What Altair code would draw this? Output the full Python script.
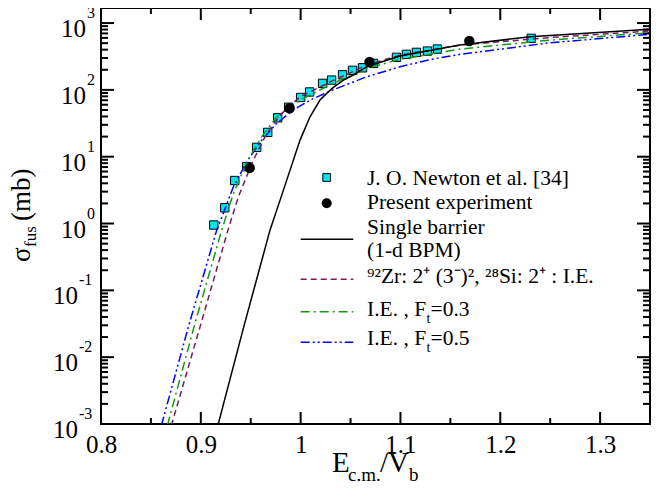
import altair as alt
import pandas as pd

# ---------------- data ----------------
newton_x = [0.913, 0.924, 0.934, 0.946, 0.956, 0.967, 0.977, 0.988, 1.000, 1.009,
            1.022, 1.031, 1.042, 1.052, 1.062, 1.073, 1.096, 1.106, 1.116, 1.127,
            1.137, 1.231]
newton_y = [0.95, 1.72, 4.4, 7.1, 13.8, 23.1, 38.2, 55, 77, 93,
            125, 140, 168, 196, 214, 249, 307, 340, 364, 381,
            408, 590]

present_x = [0.949, 0.989, 1.069, 1.169]
present_y = [6.8, 53, 261, 538]

sb_x = [0.917, 0.943, 0.9693, 0.9794, 0.9894, 0.9994, 1.0094, 1.0194, 1.0261, 1.0328,
        1.0428, 1.0528, 1.0662, 1.0996, 1.1597, 1.2299, 1.35]
sb_y = [0.00094, 0.0284, 0.796, 2.24, 6.3, 17.7, 39.6, 70.4, 88.6, 109,
        140, 167, 222, 321, 469, 624, 805]

ie_x = [0.8705, 0.8992, 0.9272, 0.9376, 0.952, 0.966, 0.9794, 0.9994, 1.0312, 1.0662,
        1.0996, 1.1597, 1.2499, 1.35]
ie_y = [0.00095, 0.0284, 0.796, 2.51, 8.5, 22.3, 42, 78.8, 135, 234,
        332, 469, 607, 760]

ft3_x = [0.8665, 0.8932, 0.9209, 0.9326, 0.947, 0.961, 0.975, 0.996, 1.0094, 1.03,
         1.0662, 1.0996, 1.1597, 1.2499, 1.35]
ft3_y = [0.00095, 0.0284, 0.796, 2.8, 8.8, 20, 38, 65, 84, 120,
         210, 287, 408, 556, 716]

ft5_x = [0.8605, 0.8875, 0.9159, 0.9225, 0.9326, 0.946, 0.961, 0.976, 0.9927, 1.0094,
         1.0325, 1.0662, 1.0996, 1.1327, 1.1597, 1.2499, 1.35]
ft5_y = [0.00095, 0.0284, 0.796, 1.42, 3.54, 8.39, 17.7, 31.5, 49.9, 70.4,
         100, 157, 222, 290, 340, 507, 678]

x_major = [0.8, 0.9, 1.0, 1.1, 1.2, 1.3]
x_minor = [0.85, 0.95, 1.05, 1.15, 1.25]
y_major = [1e-3, 1e-2, 1e-1, 1e0, 1e1, 1e2, 1e3]
y_minor = [k * d for d in [1e-3, 1e-2, 1e-1, 1e0, 1e1, 1e2] for k in range(2, 10)]
ylab_pos_v = [1e3, 1e2, 1e1, 1e0]
ylab_pos_sup = ["3", "2", "1", "0"]
ylab_neg_v = [1e-1, 1e-2, 1e-3]
ylab_neg_sup = ["-1", "-2", "-3"]

legend_labels = ["J. O. Newton et al. [34]", "Present experiment", "Single barrier",
                 " (1-d BPM)", "⁹²Zr: 2⁺ (3⁻)², ²⁸Si: 2⁺ : I.E."]

# ---------------- layout ----------------
W, H = 549, 416
FONT = "Liberation Serif"
xs = alt.Scale(domain=[0.8, 1.35], nice=False, zero=False)
ys = alt.Scale(type="log", domain=[0.001, 1680], nice=False)

xaxis = alt.Axis(values=x_major,
                 labelExpr="datum.value == 1 ? '1' : format(datum.value, '.1f')",
                 domain=False, ticks=False, grid=False, title=None,
                 labelFont=FONT, labelFontSize=25, labelColor="black",
                 labelPadding=8, labelFlush=False, labelOverlap=False)


def X(field="x"):
    return alt.X(f"{field}:Q", scale=xs, axis=xaxis)


def Y(field="y"):
    return alt.Y(f"{field}:Q", scale=ys, axis=None)


one = pd.DataFrame({"a": [0]})

layers = []

# Newton data (squares)
layers.append(
    alt.Chart(pd.DataFrame({"x": newton_x, "y": newton_y}))
    .mark_point(shape="square", filled=True, fill="#00e8ee", stroke="black",
                strokeWidth=1, size=70, opacity=1)
    .encode(x=X(), y=Y())
)


def curve(xv, yv, color, dash=None, width=1.5):
    kw = dict(color=color, strokeWidth=width, clip=True)
    if dash:
        kw["strokeDash"] = dash
    return (alt.Chart(pd.DataFrame({"x": xv, "y": yv}))
            .mark_line(**kw)
            .encode(x=X(), y=Y(), order=alt.Order("x:Q")))


PURPLE = "#7a1a5e"
GREEN = "#139a13"
BLUE = "#0000ff"
DASH_P = [6, 4]
DASH_G = [9, 4, 2, 4]
DASH_B = [9, 3, 2, 3, 2, 3]

layers.append(curve(ft5_x, ft5_y, BLUE, DASH_B))
layers.append(curve(ft3_x, ft3_y, GREEN, DASH_G))
layers.append(curve(ie_x, ie_y, PURPLE, DASH_P))
layers.append(curve(sb_x, sb_y, "black"))

# present experiment (circles)
layers.append(
    alt.Chart(pd.DataFrame({"x": present_x, "y": present_y}))
    .mark_circle(color="black", size=110, opacity=1)
    .encode(x=X(), y=Y())
)

# ---------------- y tick labels 10^n ----------------
for vals, sups, xr in [(ylab_pos_v, ylab_pos_sup, -15), (ylab_neg_v, ylab_neg_sup, -23)]:
    df = pd.DataFrame({"lv": vals, "sup": sups})
    layers.append(alt.Chart(df).mark_text(align="right", baseline="alphabetic", dy=14,
                                          font=FONT, fontSize=25, color="black")
                  .encode(y=Y("lv"), x=alt.value(xr), text=alt.value("10")))
    layers.append(alt.Chart(df).mark_text(align="left", baseline="alphabetic", dy=-5,
                                          font=FONT, fontSize=16, color="black")
                  .encode(y=Y("lv"), x=alt.value(xr + 1), text="sup:N"))


def txt(s, x, y, size, angle=0, align="left"):
    kw = dict(align=align, baseline="alphabetic", font=FONT, fontSize=size, color="black")
    if angle:
        kw["angle"] = angle
    return alt.Chart(one).mark_text(**kw).encode(
        x=alt.value(x), y=alt.value(y), text=alt.value(s))


# x axis title  E_c.m./V_b
layers += [txt("E", 231, 464, 29), txt("c.m.", 247, 473, 19),
           txt("/V", 279, 464, 29), txt("b", 308, 473, 19)]
# y axis title  sigma_fus (mb)
layers += [txt("σ", -71, 254, 27, angle=270), txt("fus", -65, 239, 17, angle=270),
           txt("(mb)", -71, 213, 27, angle=270)]

# ---------------- legend ----------------
LX = 266
layers.append(alt.Chart(one).mark_point(shape="square", filled=True, fill="#00e8ee",
                                        stroke="black", strokeWidth=1, size=60, opacity=1)
              .encode(x=alt.value(225.7), y=alt.value(169.5)))
layers.append(alt.Chart(one).mark_circle(color="black", size=100, opacity=1)
              .encode(x=alt.value(225.7), y=alt.value(195.3)))


def legline(y, color, dash=None):
    kw = dict(color=color, strokeWidth=1.5)
    if dash:
        kw["strokeDash"] = dash
    return alt.Chart(one).mark_rule(**kw).encode(
        x=alt.value(199.7), x2=alt.value(252.3), y=alt.value(y))


layers += [legline(231.3, "black"), legline(271.3, PURPLE, DASH_P),
           legline(303.7, GREEN, DASH_G), legline(334.3, BLUE, DASH_B)]

LF = 21.5
layers += [txt(legend_labels[0], LX, 176.5, LF), txt(legend_labels[1], LX, 200.5, LF),
           txt(legend_labels[2], LX, 226, LF), txt(legend_labels[3], LX, 249, LF),
           txt(legend_labels[4], LX, 275.3, LF)]
for yb, val in [(307.7, "=0.3"), (337, "=0.5")]:
    layers += [txt("I.E. , F", LX, yb, LF), txt("t", LX + 59.5, yb + 7, 14),
               txt(val, LX + 63.5, yb, LF)]

# ---------------- ticks (inward, on all four sides) ----------------
TICK = "black"
TW = 2


def xticks(vals, length, name):
    df = pd.DataFrame({name: vals})
    return [alt.Chart(df).mark_rule(color=TICK, strokeWidth=TW).encode(
                x=alt.X(f"{name}:Q", scale=xs), y=alt.value(H), y2=alt.value(H - length)),
            alt.Chart(df).mark_rule(color=TICK, strokeWidth=TW).encode(
                x=alt.X(f"{name}:Q", scale=xs), y=alt.value(0), y2=alt.value(length))]


def yticks(vals, length, name):
    df = pd.DataFrame({name: vals})
    return [alt.Chart(df).mark_rule(color=TICK, strokeWidth=TW).encode(
                y=alt.Y(f"{name}:Q", scale=ys, axis=None), x=alt.value(0), x2=alt.value(length)),
            alt.Chart(df).mark_rule(color=TICK, strokeWidth=TW).encode(
                y=alt.Y(f"{name}:Q", scale=ys, axis=None), x=alt.value(W), x2=alt.value(W - length))]


layers += xticks(x_major, 12, "xmaj") + xticks(x_minor, 6, "xmin")
layers += yticks(y_major, 13, "ymaj") + yticks(y_minor, 7, "ymin")

chart = (alt.layer(*layers)
         .properties(width=W, height=H, background="white",
                     padding={"left": 93, "top": 0, "right": 10, "bottom": 58},
                     autosize=alt.AutoSizeParams(type="none"))
         .configure_view(stroke="black", strokeWidth=2))

chart.save("out.html", embed_options={"renderer": "svg", "actions": False})
